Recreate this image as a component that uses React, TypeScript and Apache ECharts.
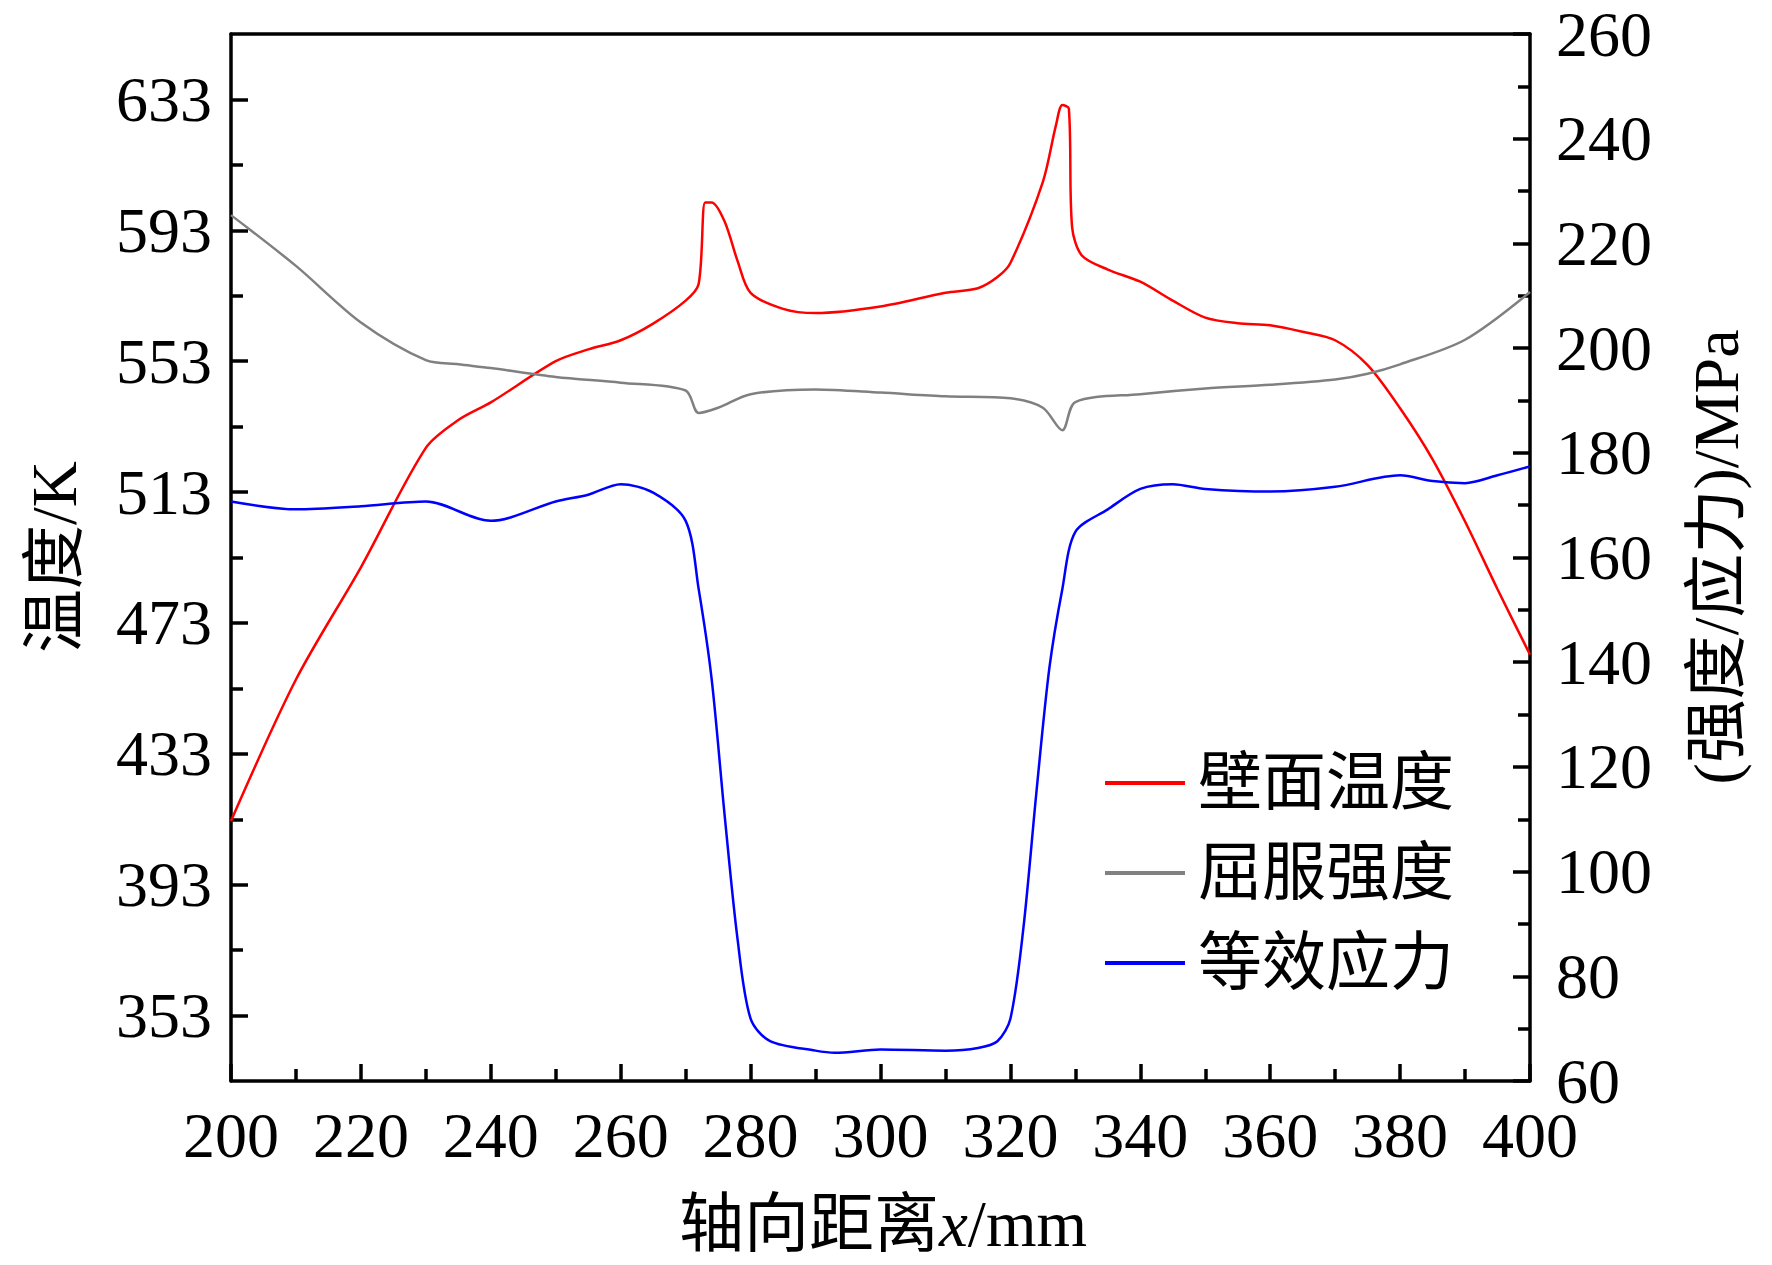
import { useEffect, useRef } from 'react';
import * as echarts from 'echarts';

// axial distance x (mm) and values
const tempX = [200, 210, 220, 230, 235, 240, 250, 255, 260, 265, 270, 272, 273, 274, 276, 278, 280, 285, 290, 300, 310, 315, 318, 320, 325, 327, 328, 329, 329.5, 331, 335, 340, 345, 350, 355, 360, 365, 370, 375, 380, 385, 390, 395, 400];
const wallTemp = [412.5, 455.7, 490, 526.5, 535, 540.4, 553, 556.6, 559.4, 564.5, 571.5, 576.6, 601.5, 601.5, 595.7, 583.6, 573.9, 569, 567.7, 569.7, 573.9, 575.3, 578.7, 583, 607.8, 625, 631.3, 630.2, 594, 585.3, 581, 577.3, 571.5, 566.3, 564.6, 564, 562, 559.4, 551.8, 538.6, 523, 504, 483.3, 463.3];

const yieldX = [200, 210, 220, 230, 235, 240, 250, 260, 270, 272, 275, 280, 290, 300, 310, 320, 325, 328, 330, 340, 350, 360, 370, 375, 380, 390, 400];
const yieldStrength = [225.4, 215.7, 204.9, 197.7, 196.9, 196.2, 194.5, 193.4, 191.9, 187.6, 188.6, 191.2, 192.1, 191.5, 190.8, 190.4, 188.6, 184.3, 189.7, 191.2, 192.3, 193, 194, 195.1, 196.9, 201.6, 210.7];

const stressX = [200, 210, 220, 230, 240, 250, 255, 260, 265, 270, 272, 274, 276, 278, 280, 283, 290, 293, 300, 310, 315, 318, 320, 322, 324, 326, 328, 330, 335, 340, 345, 350, 360, 370, 380, 385, 390, 395, 400];
const vonMises = [170.7, 169.2, 169.8, 170.7, 167, 170.7, 172, 174, 172.4, 167, 154, 136.8, 110.8, 87, 71.9, 67.6, 65.8, 65.4, 66, 65.8, 66.3, 67.6, 71.9, 89.2, 115.1, 138.9, 154, 164.9, 169.2, 173.1, 174, 173.1, 172.6, 173.5, 175.7, 174.6, 174.2, 175.7, 177.4];

const leftLabels = [353, 393, 433, 473, 513, 553, 593, 633];
const leftMinor = [373, 413, 453, 493, 533, 573, 613];

const FONT = '"Liberation Serif", "Times New Roman", "Noto Sans CJK SC", serif';
const pairs = (xs: number[], ys: number[]) => xs.map((x, i) => [x, ys[i]]);

const App = () => {
  const ref = useRef<HTMLDivElement>(null);

  useEffect(() => {
    if (!ref.current) return;
    const chart = echarts.init(ref.current, undefined, { renderer: 'svg' });
    const axisLine = { show: true, lineStyle: { color: '#000', width: 3.5 } };
    const label = { color: '#000', fontFamily: FONT, fontSize: 64 };

    chart.setOption({
      animation: false,
      backgroundColor: '#fff',
      grid: { left: 231, top: 34, width: 1299, height: 1047 },
      xAxis: [
        {
          type: 'value', min: 200, max: 400, interval: 20,
          axisLine, splitLine: { show: false },
          axisTick: { inside: true, length: 17, lineStyle: { width: 3.5 } },
          minorTick: { show: true, splitNumber: 2, length: 12, lineStyle: { color: '#000', width: 3.5 } },
          axisLabel: { ...label, margin: 22 },
        },
        { type: 'value', position: 'top', min: 200, max: 400, axisLine, axisTick: { show: false }, axisLabel: { show: false }, splitLine: { show: false } },
      ],
      yAxis: [
        {
          type: 'value', position: 'left', min: 333, max: 653,
          axisLine, splitLine: { show: false },
          axisTick: { inside: true, length: 17, customValues: leftLabels, lineStyle: { width: 3.5 } },
          axisLabel: { ...label, margin: 19, customValues: leftLabels },
        },
        {
          type: 'value', position: 'right', min: 60, max: 260, interval: 20,
          axisLine, splitLine: { show: false },
          axisTick: { inside: true, length: 17, lineStyle: { width: 3.5 } },
          minorTick: { show: true, splitNumber: 2, length: 12, lineStyle: { color: '#000', width: 3.5 } },
          axisLabel: { ...label, margin: 26 },
        },
        {
          type: 'value', position: 'left', min: 333, max: 653,
          axisLine: { show: false }, splitLine: { show: false }, axisLabel: { show: false },
          axisTick: { inside: true, length: 12, customValues: leftMinor, lineStyle: { color: '#000', width: 3.5 } },
        },
      ],
      legend: {
        orient: 'vertical', left: 1100, top: 746, itemWidth: 80, itemHeight: 4, itemGap: 26,
        icon: 'rect',
        textStyle: { fontFamily: FONT, fontSize: 64, color: '#000', padding: [0, 0, 0, 8] },
        data: ['壁面温度', '屈服强度', '等效应力'],
      },
      graphic: [
        { type: 'text', x: 54, y: 557, rotation: Math.PI / 2, style: { text: '温度/K', font: `64px ${FONT}`, fill: '#000', align: 'center', verticalAlign: 'middle' } },
        { type: 'text', x: 1716, y: 557, rotation: Math.PI / 2, style: { text: '(强度/应力)/MPa', font: `64px ${FONT}`, fill: '#000', align: 'center', verticalAlign: 'middle' } },
        {
          type: 'text', x: 883, y: 1224,
          style: {
            text: '{a|轴向距离}{i|x}{a|/mm}',
            align: 'center', verticalAlign: 'middle',
            rich: {
              a: { fontFamily: FONT, fontSize: 65, fill: '#000' },
              i: { fontFamily: FONT, fontSize: 65, fontStyle: 'italic', fill: '#000' },
            },
          },
        },
      ],
      series: [
        { name: '壁面温度', type: 'line', xAxisIndex: 0, yAxisIndex: 0, data: pairs(tempX, wallTemp), smooth: 0.3, showSymbol: false, lineStyle: { color: '#ff0000', width: 2.5 }, itemStyle: { color: '#ff0000' } },
        { name: '屈服强度', type: 'line', xAxisIndex: 0, yAxisIndex: 1, data: pairs(yieldX, yieldStrength), smooth: 0.3, showSymbol: false, lineStyle: { color: '#808080', width: 2.5 }, itemStyle: { color: '#808080' } },
        { name: '等效应力', type: 'line', xAxisIndex: 0, yAxisIndex: 1, data: pairs(stressX, vonMises), smooth: 0.3, showSymbol: false, lineStyle: { color: '#0000ff', width: 2.5 }, itemStyle: { color: '#0000ff' } },
      ],
    });

    return () => chart.dispose();
  }, []);

  return <div ref={ref} style={{ position: 'fixed', left: 0, top: 0, width: 1772, height: 1265 }} />;
};

export default App;
